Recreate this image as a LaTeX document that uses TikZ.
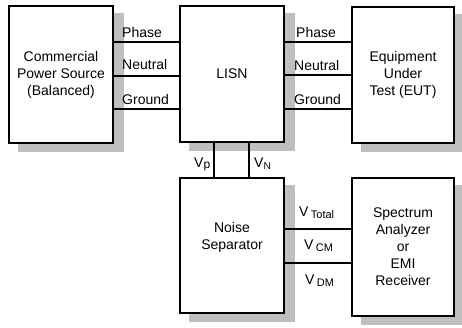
\documentclass[tikz,border=0pt]{standalone}
\usepackage{fontspec}
\setmainfont{Liberation Sans}
\usetikzlibrary{backgrounds}
\begin{document}
\begin{tikzpicture}[x=1pt,y=-1pt,
  box/.style={draw=black, line width=2pt, fill=white, rectangle, inner sep=0pt,
    align=center, font=\fontsize{14}{17}\selectfont},
  shadowfill/.style={fill=gray!50},
  conn/.style={draw=black, line width=2pt},
  lbl/.style={inner sep=0pt, anchor=base west, font=\fontsize{14}{17}\selectfont}]
\useasboundingbox (0,0) rectangle (462,327);
\node[box, minimum width=104pt, minimum height=137pt] (src) at (61,74.5) {Commercial\\Power Source\\(Balanced)};
\node[box, minimum width=104pt, minimum height=136pt] (lisn) at (232,74) {LISN};
\node[box, minimum width=102pt, minimum height=136pt] (eut) at (403,75) {Equipment\\Under\\Test (EUT)};
\node[box, minimum width=104pt, minimum height=135pt,
  label={[yshift=8pt, align=center, font=\fontsize{14}{17}\selectfont]center:Noise\\Separator}] (noise) at (232,245.5) {};
\node[box, minimum width=102pt, minimum height=138pt] (sa) at (403,247) {Spectrum\\Analyzer\\or\\EMI\\Receiver};
\begin{scope}[on background layer]
  \foreach \n in {src,lisn,eut,noise,sa}
    \fill[shadowfill] ([shift={(10,8)}]\n.south west) rectangle ([shift={(10,8)}]\n.north east);
\end{scope}
% power connectors
\draw[conn] (src.east |- 0,42) -- (lisn.west |- 0,42);
\draw[conn] (src.east |- 0,76) -- (lisn.west |- 0,76);
\draw[conn] (src.east |- 0,109) -- (lisn.west |- 0,109);
\draw[conn] (lisn.east |- 0,42) -- (eut.west |- 0,42);
\draw[conn] (lisn.east |- 0,75) -- (eut.west |- 0,75);
\draw[conn] (lisn.east |- 0,109) -- (eut.west |- 0,109);
% LISN to noise separator
\draw[conn] (lisn.south -| 214,0) -- (noise.north -| 214,0);
\draw[conn] (lisn.south -| 249,0) -- (noise.north -| 249,0);
% noise separator to analyzer
\draw[conn] (noise.east |- 0,229) -- (sa.west |- 0,229);
\draw[conn] (noise.east |- 0,263) -- (sa.west |- 0,263);
% labels
\node[lbl] (l1) at (122,37) {Phase};
\node[lbl] (l2) at (122,69) {Neutral};
\node[lbl] (l3) at (122,104) {Ground};
\node[lbl] (r1) at (296,37) {Phase};
\node[lbl] (r2) at (294,70) {Neutral};
\node[lbl] (r3) at (294,104) {Ground};
\node[lbl] (vp) at (194,167) {V\raisebox{-1pt}{\fontsize{12}{12}\selectfont p}};
\node[lbl] (vn) at (254,167) {V\raisebox{-2pt}{\fontsize{10}{10}\selectfont N}};
\node[lbl] (vt) at (299,216) {V\,\raisebox{-2pt}{\fontsize{11}{11}\selectfont Total}};
\node[lbl] (vc) at (304,249) {V\,\raisebox{-2pt}{\fontsize{11}{11}\selectfont CM}};
\node[lbl] (vd) at (305,284) {V\,\raisebox{-2pt}{\fontsize{11}{11}\selectfont DM}};
\end{tikzpicture}
\end{document}
